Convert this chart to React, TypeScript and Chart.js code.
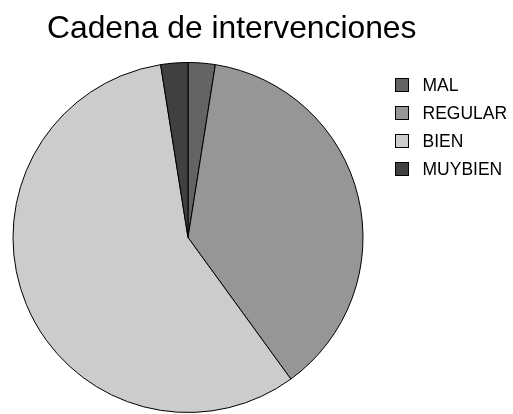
import React, { useEffect, useRef } from "react";
import { Chart, registerables } from "chart.js";

Chart.register(...registerables);

const title = "Cadena de intervenciones";
const categories = ["MAL", "REGULAR", "BIEN", "MUYBIEN"];
const values = [1, 15, 23, 1];
const colors = ["#646464", "#969696", "#cccccc", "#404040"];

const overlayPlugin = {
  id: "overlay",
  afterDraw(chart: any) {
    const ctx = chart.ctx;
    ctx.save();
    ctx.fillStyle = "#000";
    ctx.textBaseline = "alphabetic";
    ctx.textAlign = "left";
    ctx.font = "31.8px 'Liberation Sans', Arial, sans-serif";
    ctx.fillText(title, 47, 37.5);
    const labels = chart.data.labels as string[];
    const bg = chart.data.datasets[0].backgroundColor as string[];
    ctx.font = "17.5px 'Liberation Sans', Arial, sans-serif";
    ctx.textBaseline = "middle";
    labels.forEach((lab, i) => {
      const cy = 85 + i * 28;
      ctx.fillStyle = bg[i];
      ctx.fillRect(395.5, cy - 6.5, 13, 13);
      ctx.strokeStyle = "#000";
      ctx.lineWidth = 1;
      ctx.strokeRect(395.5, cy - 6.5, 13, 13);
      ctx.fillStyle = "#000";
      ctx.fillText(lab, 422.5, cy + 1);
    });
    ctx.restore();
  },
};

export default function App() {
  const ref = useRef<HTMLCanvasElement>(null);
  useEffect(() => {
    if (!ref.current) return;
    const chart = new Chart(ref.current, {
      type: "pie",
      data: {
        labels: categories,
        datasets: [
          {
            data: values,
            backgroundColor: colors,
            borderColor: "#000",
            borderWidth: 1,
          },
        ],
      },
      options: {
        responsive: true,
        maintainAspectRatio: false,
        animation: false,
        layout: { padding: { left: 12.5, top: 62, right: 149.5, bottom: 1 } },
        plugins: {
          legend: { display: false },
          title: { display: false },
          tooltip: { enabled: false },
        },
      },
      plugins: [overlayPlugin],
    });
    return () => chart.destroy();
  }, []);
  return (
    <div style={{ position: "absolute", left: 0, top: 0, width: 513, height: 414, background: "#fff" }}>
      <canvas ref={ref} />
    </div>
  );
}
